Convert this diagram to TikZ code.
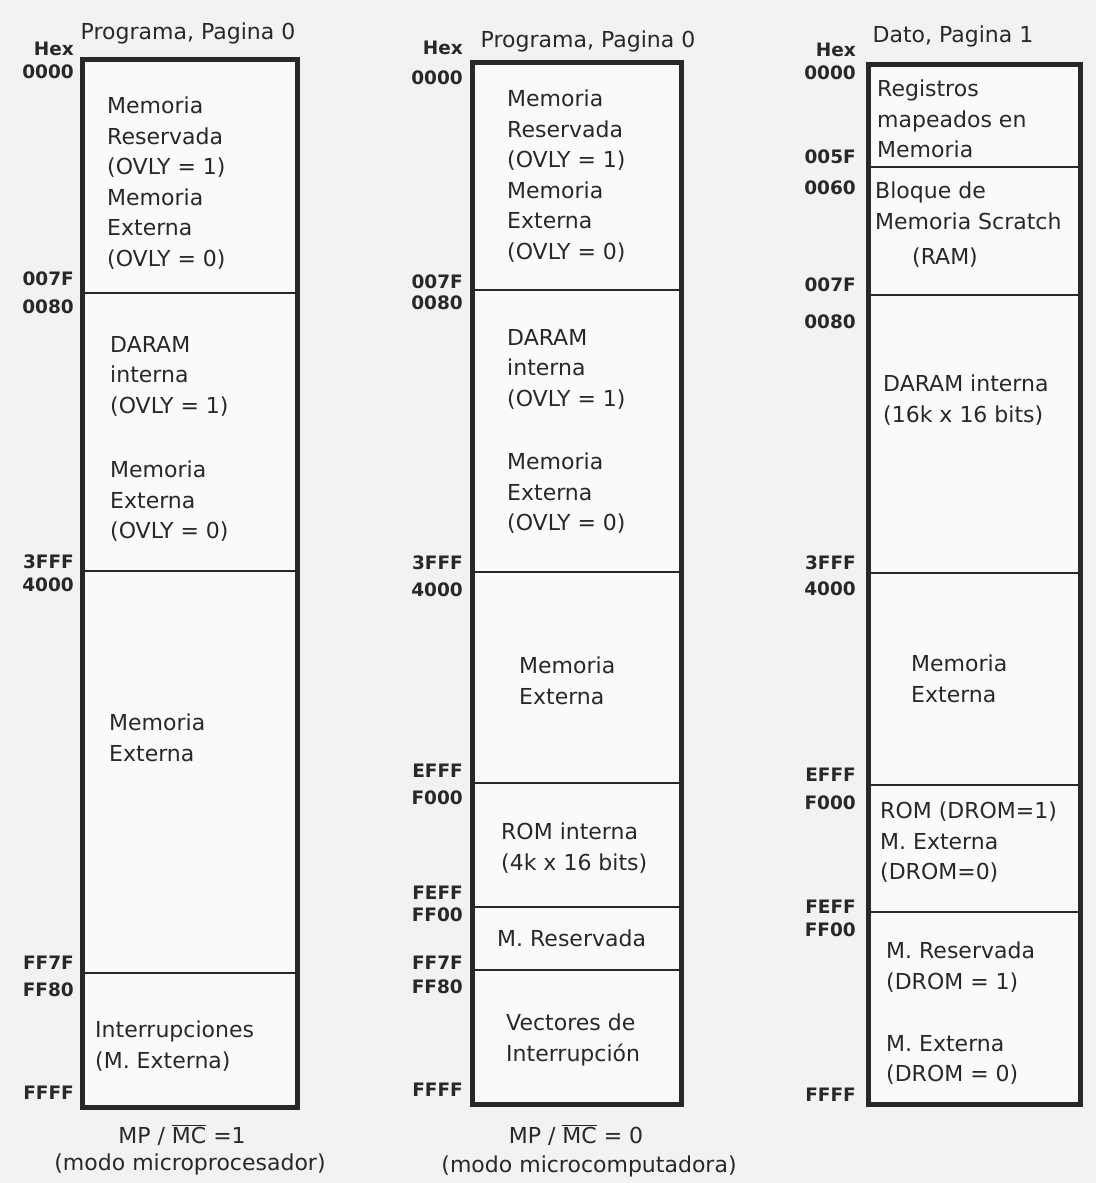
\documentclass[tikz,border=0pt]{standalone}
\usepackage{fontspec}
\setmainfont{DejaVu Sans}
\usepackage{tikz}
\definecolor{ink}{RGB}{40, 40, 40}
\definecolor{paper}{RGB}{242, 242, 240}

\begin{document}
\begin{tikzpicture}[
    x=1pt, y=-1pt,
    mem/.style={draw=ink, line width=5pt, fill=white!60!paper},
    sep/.style={draw=ink, line width=2.5pt},
    hexlbl/.style={
      anchor=east, inner sep=0pt, text=ink,
      font=\fontsize{18.5}{18.5}\selectfont\bfseries
    },
    ttl/.style={anchor=base, inner sep=0pt, text=ink,
      font=\fontsize{22}{26}\selectfont},
    txt/.style={
      anchor=north west, inner sep=0pt, text=ink, align=left,
      font=\fontsize{22}{30.5}\selectfont
    }
  ]

  \fill[paper] (0,0) rectangle (1096,1183);
  \useasboundingbox (0,0) rectangle (1096,1183);

  % ── Column 1: programa, MP/MC = 1 ──────────────────────────────
  \draw[mem] (82,59) rectangle (297,1107);
  \draw[sep] (82,293) -- (297,293);
  \draw[sep] (82,571) -- (297,571);
  \draw[sep] (82,973) -- (297,973);

  \node[ttl] (mp-title) at (188,39) {Programa, Pagina 0};
  \node[hexlbl] (mp-hex)  at (74,49)   {Hex};
  \node[hexlbl] (mp-0000) at (74,72)   {0000};
  \node[hexlbl] (mp-007F) at (74,279)  {007F};
  \node[hexlbl] (mp-0080) at (74,307)  {0080};
  \node[hexlbl] (mp-3FFF) at (74,562)  {3FFF};
  \node[hexlbl] (mp-4000) at (74,585)  {4000};
  \node[hexlbl] (mp-FF7F) at (74,963)  {FF7F};
  \node[hexlbl] (mp-FF80) at (74,990)  {FF80};
  \node[hexlbl] (mp-FFFF) at (74,1093) {FFFF};

  \node[txt] (mp-ovly)  at (107,97)
    {Memoria\\Reservada\\(OVLY = 1)\\Memoria\\Externa\\(OVLY = 0)};
  \node[txt] (mp-daram) at (110,336) {DARAM\\interna\\(OVLY = 1)};
  \node[txt] (mp-ext1)  at (110,461) {Memoria\\Externa\\(OVLY = 0)};
  \node[txt] (mp-ext2)  at (109,714) {Memoria\\Externa};
  \node[txt] (mp-int)   at (95,1021) {Interrupciones\\(M. Externa)};

  \node[ttl] (mp-mode) at (182,1143) {MP / $\overline{\mbox{MC}}$ =1};
  \node[ttl] (mp-desc) at (190,1170) {(modo microprocesador)};

  % ── Column 2: programa, MP/MC = 0 ──────────────────────────────
  \draw[mem] (472,62) rectangle (681,1104);
  \draw[sep] (472,290) -- (681,290);
  \draw[sep] (472,572) -- (681,572);
  \draw[sep] (472,783) -- (681,783);
  \draw[sep] (472,907) -- (681,907);
  \draw[sep] (472,970) -- (681,970);

  \node[ttl] (mc-title) at (588,47) {Programa, Pagina 0};
  \node[hexlbl] (mc-hex)  at (463,48)   {Hex};
  \node[hexlbl] (mc-0000) at (463,78)   {0000};
  \node[hexlbl] (mc-007F) at (463,282)  {007F};
  \node[hexlbl] (mc-0080) at (463,303)  {0080};
  \node[hexlbl] (mc-3FFF) at (463,563)  {3FFF};
  \node[hexlbl] (mc-4000) at (463,590)  {4000};
  \node[hexlbl] (mc-EFFF) at (463,771)  {EFFF};
  \node[hexlbl] (mc-F000) at (463,798)  {F000};
  \node[hexlbl] (mc-FEFF) at (463,893)  {FEFF};
  \node[hexlbl] (mc-FF00) at (463,915)  {FF00};
  \node[hexlbl] (mc-FF7F) at (463,963)  {FF7F};
  \node[hexlbl] (mc-FF80) at (463,987)  {FF80};
  \node[hexlbl] (mc-FFFF) at (463,1090) {FFFF};

  \node[txt] (mc-ovly)  at (507,90)
    {Memoria\\Reservada\\(OVLY = 1)\\Memoria\\Externa\\(OVLY = 0)};
  \node[txt] (mc-daram) at (507,329) {DARAM\\interna\\(OVLY = 1)};
  \node[txt] (mc-ext1)  at (507,453) {Memoria\\Externa\\(OVLY = 0)};
  \node[txt] (mc-ext2)  at (519,657) {Memoria\\Externa};
  \node[txt] (mc-rom)   at (501,823) {ROM interna\\(4k x 16 bits)};
  \node[txt] (mc-res)   at (497,930) {M. Reservada};
  \node[txt] (mc-vec)   at (506,1014) {Vectores de\\Interrupción};

  \node[ttl] (mc-mode) at (576,1143) {MP / $\overline{\mbox{MC}}$ = 0};
  \node[ttl] (mc-desc) at (589,1172) {(modo microcomputadora)};

  % ── Column 3: dato, pagina 1 ───────────────────────────────────
  \draw[mem] (868,64) rectangle (1080,1104);
  \draw[sep] (868,167) -- (1080,167);
  \draw[sep] (868,295) -- (1080,295);
  \draw[sep] (868,573) -- (1080,573);
  \draw[sep] (868,785) -- (1080,785);
  \draw[sep] (868,912) -- (1080,912);

  \node[ttl] (dt-title) at (953,42) {Dato, Pagina 1};
  \node[hexlbl] (dt-hex)  at (856,50)   {Hex};
  \node[hexlbl] (dt-0000) at (856,73)   {0000};
  \node[hexlbl] (dt-005F) at (856,157)  {005F};
  \node[hexlbl] (dt-0060) at (856,188)  {0060};
  \node[hexlbl] (dt-007F) at (856,285)  {007F};
  \node[hexlbl] (dt-0080) at (856,322)  {0080};
  \node[hexlbl] (dt-3FFF) at (856,563)  {3FFF};
  \node[hexlbl] (dt-4000) at (856,589)  {4000};
  \node[hexlbl] (dt-EFFF) at (856,775)  {EFFF};
  \node[hexlbl] (dt-F000) at (856,803)  {F000};
  \node[hexlbl] (dt-FEFF) at (856,907)  {FEFF};
  \node[hexlbl] (dt-FF00) at (856,930)  {FF00};
  \node[hexlbl] (dt-FFFF) at (856,1095) {FFFF};

  \node[txt] (dt-reg)   at (877,80)  {Registros\\mapeados en\\Memoria};
  \node[txt] (dt-blk)   at (875,182) {Bloque de\\Memoria Scratch};
  \node[txt, anchor=north] (dt-ram) at (945,248) {(RAM)};
  \node[txt] (dt-daram) at (883,375) {DARAM interna\\(16k x 16 bits)};
  \node[txt] (dt-ext)   at (911,655) {Memoria\\Externa};
  \node[txt] (dt-rom)   at (880,802) {ROM (DROM=1)\\M. Externa\\(DROM=0)};
  \node[txt] (dt-res)   at (886,942) {M. Reservada\\(DROM = 1)};
  \node[txt] (dt-ext2)  at (886,1035) {M. Externa\\(DROM = 0)};

\end{tikzpicture}
\end{document}
